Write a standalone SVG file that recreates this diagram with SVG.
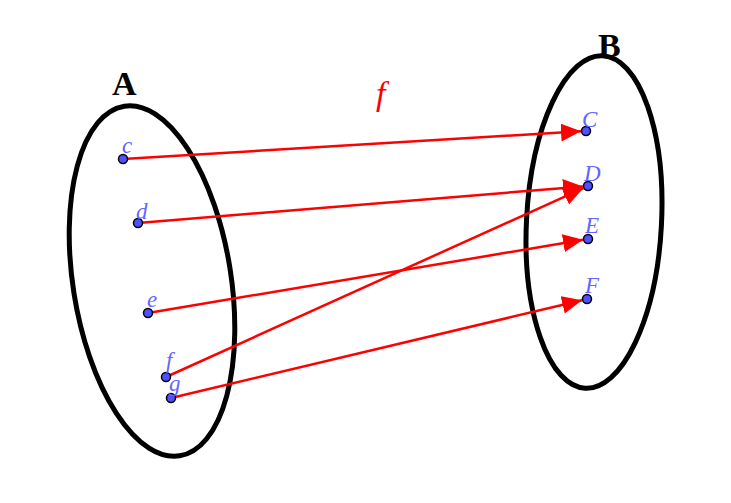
<svg xmlns="http://www.w3.org/2000/svg" width="731" height="503" viewBox="0 0 731 503">
<style>
.set{fill:none;stroke:#000;stroke-width:5}
.arr{stroke:#ff0000;stroke-width:2.5;fill:none;marker-end:url(#ah)}
.pt{fill:#5050ff;stroke:#000;stroke-width:1.5}
.lbl{font-family:"Liberation Serif",serif;font-style:italic;font-size:23px;fill:#6464ff}
.title{font-family:"Liberation Serif",serif;font-weight:bold;font-size:34px;fill:#000}
.fn{font-family:"Liberation Serif",serif;font-style:italic;font-size:34px;fill:#ff0000}
</style>
<defs>
<marker id="ah" markerUnits="userSpaceOnUse" markerWidth="22" markerHeight="20" refX="20" refY="9" orient="auto">
<path d="M0,0 L20,9 L0,18 z" fill="#ff0000"/>
</marker>
</defs>
<rect width="731" height="503" fill="#fff"/>
<g id="setA">
<ellipse class="set" cx="152" cy="281" rx="79" ry="177" transform="rotate(-9 152 281)"/>
<text class="title" x="112" y="95">A</text>
</g>
<g id="setB">
<ellipse class="set" cx="594" cy="222" rx="67.5" ry="166.5" transform="rotate(3 594 222)"/>
<text class="title" x="598" y="57">B</text>
</g>
<g id="connectors">
<line class="arr" x1="123" y1="159" x2="581" y2="131.3"/>
<line class="arr" x1="138" y1="223" x2="583" y2="186.4"/>
<line class="arr" x1="148" y1="313" x2="583.1" y2="239.8"/>
<line class="arr" x1="166" y1="377" x2="583.5" y2="188.1"/>
<line class="arr" x1="171" y1="398" x2="582.1" y2="300.2"/>
<text class="fn" x="376" y="105">f</text>
</g>
<g id="node-c"><circle class="pt" cx="123" cy="159" r="4.5"/><text class="lbl" x="122" y="153">c</text></g>
<g id="node-d"><circle class="pt" cx="138" cy="223" r="4.5"/><text class="lbl" x="136" y="219">d</text></g>
<g id="node-e"><circle class="pt" cx="148" cy="313" r="4.5"/><text class="lbl" x="147" y="307">e</text></g>
<g id="node-f"><circle class="pt" cx="166" cy="377" r="4.5"/><text class="lbl" x="166" y="368">f</text></g>
<g id="node-g"><circle class="pt" cx="171" cy="398" r="4.5"/><text class="lbl" x="169" y="391">g</text></g>
<g id="node-C"><circle class="pt" cx="586" cy="131" r="4.5"/><text class="lbl" x="582" y="127">C</text></g>
<g id="node-D"><circle class="pt" cx="588" cy="186" r="4.5"/><text class="lbl" x="584" y="181">D</text></g>
<g id="node-E"><circle class="pt" cx="588" cy="239" r="4.5"/><text class="lbl" x="585" y="233">E</text></g>
<g id="node-F"><circle class="pt" cx="587" cy="299" r="4.5"/><text class="lbl" x="585" y="293">F</text></g>
</svg>
